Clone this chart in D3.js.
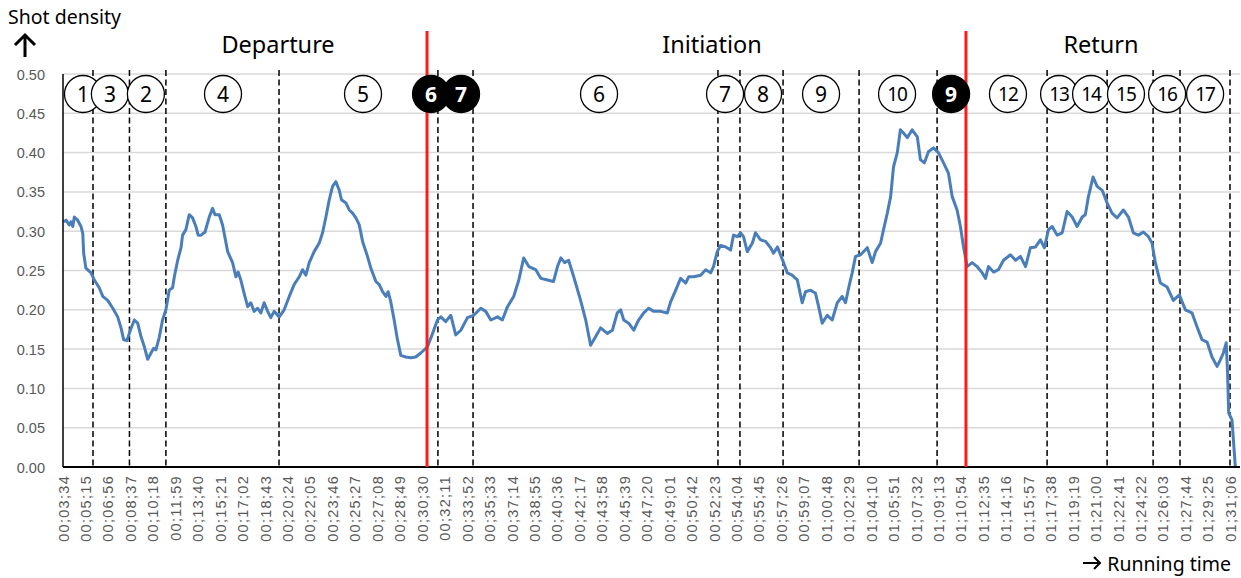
<!DOCTYPE html>
<html><head><meta charset="utf-8">
<script src="https://cdnjs.cloudflare.com/ajax/libs/d3/7.8.5/d3.min.js"></script>
<style>body{margin:0;background:#fff;}svg{display:block;font-family:"Noto Sans","Open Sans",sans-serif;}</style>
</head><body><svg id="c" width="1241" height="578"></svg>
<script>
// ---- data ----
const xTickLabels = ["00;03;34","00;05;15","00;06;56","00;08;37","00;10;18","00;11;59","00;13;40","00;15;21","00;17;02","00;18;43","00;20;24","00;22;05","00;23;46","00;25;27","00;27;08","00;28;49","00;30;30","00;32;11","00;33;52","00;35;33","00;37;14","00;38;55","00;40;36","00;42;17","00;43;58","00;45;39","00;47;20","00;49;01","00;50;42","00;52;23","00;54;04","00;55;45","00;57;26","00;59;07","01;00;48","01;02;29","01;04;10","01;05;51","01;07;32","01;09;13","01;10;54","01;12;35","01;14;16","01;15;57","01;17;38","01;19;19","01;21;00","01;22;41","01;24;22","01;26;03","01;27;44","01;29;25","01;31;06"];
const yTicks = [0,0.05,0.10,0.15,0.20,0.25,0.30,0.35,0.40,0.45,0.50];
// running time (seconds)
const timeSec = [217,228,242,250,258,265,280,295,303,307,317,340,355,377,393,415,438,460,475,487,502,517,535,550,565,580,595,610,622,632,647,662,677,692,707,715,730,745,752,767,782,797,812,822,835,853,872,887,898,917,932,955,977,992,1002,1014,1029,1045,1059,1074,1090,1104,1119,1135,1149,1164,1187,1209,1232,1254,1277,1292,1307,1322,1344,1367,1382,1397,1412,1427,1442,1457,1467,1487,1502,1517,1532,1547,1562,1584,1599,1622,1637,1652,1667,1677,1689,1704,1719,1734,1756,1779,1801,1824,1854,1877,1899,1914,1936,1959,1981,2004,2034,2062,2094,2116,2139,2169,2191,2214,2242,2265,2287,2310,2341,2364,2394,2421,2439,2454,2471,2489,2512,2543,2566,2588,2611,2633,2663,2686,2708,2723,2737,2759,2782,2804,2827,2849,2872,2903,2933,2948,2971,2993,3016,3029,3052,3083,3106,3128,3141,3158,3173,3196,3218,3231,3248,3263,3276,3293,3316,3330,3353,3375,3398,3411,3429,3456,3473,3495,3518,3540,3555,3578,3600,3614,3630,3653,3675,3698,3720,3735,3750,3765,3780,3803,3833,3855,3870,3893,3906,3923,3938,3951,3968,3982,3996,4013,4035,4058,4072,4090,4108,4131,4153,4176,4198,4215,4237,4252,4266,4282,4305,4327,4350,4365,4378,4401,4423,4446,4477,4500,4522,4545,4567,4590,4612,4630,4648,4665,4687,4710,4732,4755,4777,4800,4814,4828,4849,4867,4890,4912,4934,4957,4985,5008,5030,5053,5075,5098,5114,5129,5152,5182,5210,5237,5264,5294,5317,5339,5362,5384,5407,5421,5435,5448,5454,5459,5474,5489];
const shotDensity = [0.312,0.314,0.308,0.312,0.306,0.318,0.314,0.306,0.297,0.272,0.253,0.247,0.238,0.228,0.217,0.212,0.202,0.191,0.177,0.162,0.161,0.174,0.187,0.183,0.166,0.153,0.137,0.145,0.151,0.149,0.165,0.187,0.200,0.225,0.228,0.242,0.263,0.279,0.295,0.302,0.321,0.317,0.306,0.295,0.295,0.299,0.318,0.329,0.321,0.321,0.308,0.274,0.260,0.242,0.248,0.238,0.221,0.204,0.209,0.198,0.202,0.196,0.209,0.198,0.190,0.198,0.191,0.200,0.217,0.232,0.242,0.251,0.244,0.260,0.274,0.285,0.298,0.318,0.340,0.357,0.363,0.352,0.340,0.336,0.327,0.323,0.317,0.308,0.287,0.268,0.253,0.236,0.232,0.223,0.217,0.223,0.210,0.187,0.162,0.142,0.140,0.139,0.140,0.145,0.153,0.170,0.187,0.191,0.185,0.193,0.168,0.174,0.190,0.193,0.202,0.198,0.187,0.191,0.187,0.204,0.217,0.238,0.266,0.255,0.251,0.240,0.238,0.236,0.255,0.266,0.260,0.263,0.242,0.212,0.187,0.155,0.166,0.177,0.170,0.174,0.196,0.200,0.187,0.183,0.174,0.187,0.196,0.202,0.198,0.198,0.196,0.210,0.225,0.240,0.234,0.242,0.242,0.244,0.251,0.247,0.255,0.274,0.282,0.280,0.276,0.295,0.293,0.298,0.293,0.274,0.285,0.298,0.289,0.287,0.279,0.272,0.280,0.260,0.247,0.244,0.238,0.209,0.223,0.225,0.221,0.204,0.183,0.193,0.187,0.209,0.217,0.209,0.229,0.247,0.268,0.270,0.279,0.260,0.274,0.285,0.302,0.323,0.344,0.382,0.400,0.429,0.425,0.419,0.429,0.420,0.391,0.387,0.401,0.406,0.400,0.387,0.374,0.344,0.327,0.306,0.280,0.255,0.260,0.255,0.247,0.240,0.255,0.248,0.251,0.263,0.270,0.263,0.268,0.255,0.279,0.280,0.289,0.279,0.302,0.306,0.295,0.298,0.325,0.318,0.306,0.318,0.321,0.344,0.369,0.357,0.352,0.336,0.323,0.317,0.327,0.318,0.298,0.295,0.299,0.293,0.285,0.260,0.234,0.229,0.212,0.219,0.200,0.196,0.178,0.162,0.159,0.140,0.128,0.136,0.145,0.158,0.120,0.069,0.060,0.000];
// segment boundaries (seconds)
const dashedBounds = [349,513,677,1186,1901,2059,3161,3260,3454,3796,4147,4642,4912,5119,5240,5465];
const phaseBounds = [1852,4277];
const phaseNames = ["Departure","Initiation","Return"];
const markerLabels = ["1","3","2","4","5","6","7","6","7","8","9","10","9","12","13","14","15","16","17"];
const markerTimes  = [304,425,587,934,1564,1870,2005,2626,3193,3364,3625,3967,4210,4466,4696,4840,4997,5182,5353];
const markerFilled = [0,0,0,0,0,1,1,0,0,0,0,0,1,0,0,0,0,0,0];

// ---- layout ----
const svg = d3.select("#c");
const L=63, R=1240, T=74, B=467;
const parseT = s => { const p=s.split(";").map(Number); return p[0]*3600+p[1]*60+p[2]; };
const x = d3.scaleLinear().domain([214,5510]).range([L,R]);
const y = d3.scaleLinear().domain([0,0.5]).range([B,T]);
const grey="#595959";

// gridlines
svg.append("g").selectAll("line").data(yTicks.slice(1)).join("line")
  .attr("x1",L).attr("x2",R).attr("y1",d=>y(d)).attr("y2",d=>y(d))
  .attr("stroke","#d9d9d9").attr("stroke-width",1.5);

// y axis labels
const yAxis = d3.axisLeft(y).tickValues(yTicks).tickFormat(d=>d.toFixed(2)).tickSize(0).tickPadding(0);
const gy = svg.append("g").attr("transform",`translate(45,0)`).call(yAxis);
gy.select(".domain").remove();
gy.selectAll("text").attr("fill",grey).style("font-size","14.5px").attr("dy","0.35em");

// x axis labels
const xAxis = d3.axisBottom(x).tickValues(xTickLabels.map(parseT)).tickFormat((d,i)=>xTickLabels[i]).tickSize(0);
const gx = svg.append("g").attr("transform",`translate(0,${B})`).call(xAxis);
gx.select(".domain").remove();
gx.selectAll("text").attr("fill",grey).style("font-size","14.5px").style("letter-spacing","1.3px")
  .attr("text-anchor","end").attr("transform","rotate(-90)")
  .attr("x",-8).attr("y",0).attr("dy","0.35em");

// dashed lines
svg.append("g").selectAll("line").data(dashedBounds).join("line")
  .attr("x1",d=>x(d)).attr("x2",d=>x(d)).attr("y1",70).attr("y2",B)
  .attr("stroke","#000").attr("stroke-width",1.5).attr("stroke-dasharray","6,3.5");

// series line
const line = d3.line().x((d,i)=>x(timeSec[i])).y(d=>y(d));
svg.append("path").datum(shotDensity).attr("d",line)
  .attr("fill","none").attr("stroke","#4a7ebb").attr("stroke-width",3).attr("stroke-linejoin","round");

// axes lines
svg.append("line").attr("x1",L).attr("x2",L).attr("y1",T).attr("y2",B).attr("stroke","#000").attr("stroke-width",1.5);
svg.append("line").attr("x1",L).attr("x2",R).attr("y1",B).attr("y2",B).attr("stroke","#000").attr("stroke-width",1.8);

// red phase lines
svg.append("g").selectAll("line").data(phaseBounds).join("line")
  .attr("x1",d=>x(d)).attr("x2",d=>x(d)).attr("y1",31).attr("y2",B)
  .attr("stroke","#ff1a1a").attr("stroke-width",3);

// markers
const mg = svg.append("g").selectAll("g").data(markerLabels).join("g")
  .attr("transform",(d,i)=>`translate(${x(markerTimes[i])},94)`);
mg.append("circle").attr("r",18.5)
  .attr("fill",(d,i)=>markerFilled[i]?"#000":"#fff").attr("stroke","#000").attr("stroke-width",1.3);
mg.append("text").text(d=>d).attr("text-anchor","middle").attr("dy","0.36em")
  .attr("fill",(d,i)=>markerFilled[i]?"#fff":"#000")
  .style("font-weight",(d,i)=>markerFilled[i]?"bold":"normal")
  .style("font-size",d=>d.length>1?"19px":"21px")
  .style("letter-spacing",d=>d.length>1?"-1px":"0");

// phase titles
const phaseX=[278,712,1101];
svg.append("g").selectAll("text").data(phaseNames).join("text")
  .attr("x",(d,i)=>phaseX[i]).attr("y",53).attr("text-anchor","middle")
  .style("font-size","23.5px").attr("fill","#000").text(d=>d);

// axis titles
svg.append("text").attr("x",8).attr("y",24).style("font-size","19.5px").attr("fill","#000").text("Shot density");
svg.append("path").attr("d","M25,57 V35 M15,45 L25,35 L35,45").attr("fill","none").attr("stroke","#000").attr("stroke-width",3);
svg.append("path").attr("d","M1083,563 H1100 M1094,557 L1100,563 L1094,569").attr("fill","none").attr("stroke","#000").attr("stroke-width",2);
svg.append("text").attr("x",1231).attr("y",571).attr("text-anchor","end").style("font-size","19.5px").attr("fill","#000").text("Running time");
</script></body></html>
